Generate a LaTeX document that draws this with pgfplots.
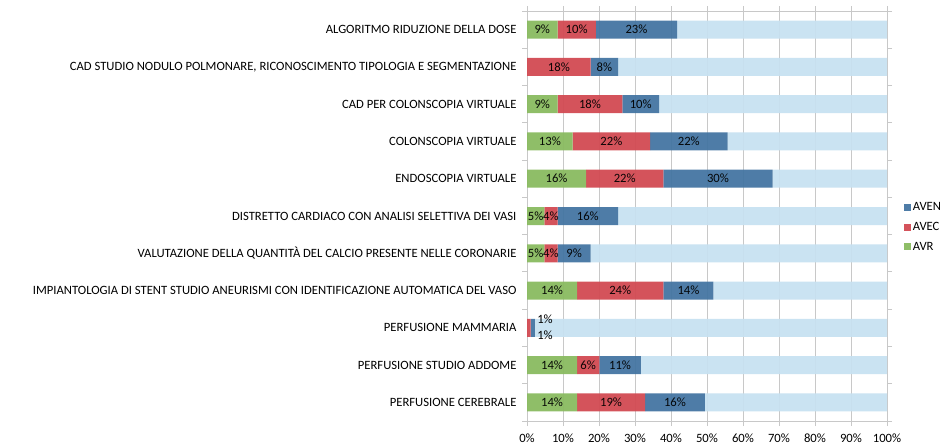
\documentclass[border=0pt]{standalone}
\usepackage{pgfplots}
\usepackage{pgfplotstable}
\pgfplotsset{compat=1.18}
\usepackage{fontspec}
\setmainfont{Carlito}
\definecolor{cgreen}{RGB}{137,187,96}
\definecolor{cred}{RGB}{210,74,82}
\definecolor{cblue}{RGB}{68,117,162}
\definecolor{clight}{RGB}{199,225,241}
\definecolor{cgrid}{RGB}{200,200,200}
\newcommand{\fs}{\fontsize{12.7}{15}\selectfont}

\pgfplotstableread{
idx g    r    b    rem  gl     rl     bl
0   8.5  10.6 22.6 58.3 9\%   10\%   23\%
1   0    17.7 7.6  74.7 {}    18\%   8\%
2   8.5  18.0 10.2 63.3 9\%   18\%   10\%
3   12.7 21.5 21.5 44.3 13\%  22\%   22\%
4   16.4 21.5 30.3 31.8 16\%  22\%   30\%
5   4.8  3.7  16.8 74.7 5\%   4\%    16\%
6   4.8  3.7  9.2  82.3 5\%   4\%    9\%
7   13.9 24.0 13.9 48.2 14\%  24\%   14\%
8   0    1.0  1.2  97.8 {}    {}     {}
9   13.9 6.2  11.5 68.4 14\%  6\%    11\%
10  13.9 18.9 16.6 50.6 14\%  19\%   16\%
}\data

\begin{document}
\begin{tikzpicture}
\path[use as bounding box] (0,0) rectangle (949bp,448bp);
\begin{axis}[
  at={(527bp,27bp)}, anchor=south west,
  scale only axis, width=360bp, height=410bp,
  xbar stacked, bar width=18bp,
  xmin=0, xmax=100,
  ymin=-0.5, ymax=10.5, y dir=reverse,
  axis line style={cgrid, line width=0.9bp},
  xtick={0,10,...,100},
  xticklabels={0\%,10\%,20\%,30\%,40\%,50\%,60\%,70\%,80\%,90\%,100\%},
  xmajorgrids, grid style={cgrid, line width=0.9bp},
  tick align=outside, major tick length=5bp,
  x tick style={cgrid, line width=0.9bp},
  ytick={0,...,10},
  y tick style={draw=none},
  yticklabels={ALGORITMO RIDUZIONE DELLA DOSE,
    {CAD STUDIO NODULO POLMONARE, RICONOSCIMENTO TIPOLOGIA E SEGMENTAZIONE},
    CAD PER COLONSCOPIA VIRTUALE,
    COLONSCOPIA VIRTUALE,
    ENDOSCOPIA VIRTUALE,
    DISTRETTO CARDIACO CON ANALISI SELETTIVA DEI VASI,
    VALUTAZIONE DELLA QUANTITÀ DEL CALCIO PRESENTE NELLE CORONARIE,
    IMPIANTOLOGIA DI STENT STUDIO ANEURISMI CON IDENTIFICAZIONE AUTOMATICA DEL VASO,
    PERFUSIONE MAMMARIA,
    PERFUSIONE STUDIO ADDOME,
    PERFUSIONE CEREBRALE},
  extra y ticks={-0.5,0.5,...,10.5},
  extra y tick labels={},
  extra y tick style={y tick style={draw=cgrid, line width=0.9bp}, major tick length=5bp},
  ticklabel style={font=\fs, text=black},
  yticklabel style={xshift=-2bp},
  xticklabel style={anchor=north, text height=9bp, text depth=2bp, yshift=-4bp},
  legend style={at={(1.046,0.473)}, anchor=west, draw=none, fill=none,
    font=\fs, row sep=6bp, inner sep=0pt},
  legend cell align=left,
  reverse legend,
  legend image code/.code={\fill (0bp,-3.5bp) rectangle (7bp,3.5bp);},
  lbl/.style={point meta=explicit symbolic, nodes near coords,
    every node near coord/.append style={anchor=center, font=\fs, text=black, inner sep=0pt}},
]
\addplot[fill=cgreen, draw=none, fill opacity=0.95, lbl]
  table[x=g, y=idx, meta=gl]{\data};
\addlegendentry{AVR}
\addplot[fill=cred, draw=none, fill opacity=0.95, lbl]
  table[x=r, y=idx, meta=rl]{\data};
\addlegendentry{AVEC}
\addplot[fill=cblue, draw=none, fill opacity=0.95, lbl]
  table[x=b, y=idx, meta=bl]{\data};
\addlegendentry{AVEN}
\addplot[fill=clight, draw=none, fill opacity=0.95, forget plot]
  table[x=rem, y=idx]{\data};
\coordinate (m1) at (axis cs:5,7.76);
\coordinate (m2) at (axis cs:5,8.19);
\end{axis}
\node[font=\fs] at (m1) {1\%};
\node[font=\fs] at (m2) {1\%};
\end{tikzpicture}
\end{document}
